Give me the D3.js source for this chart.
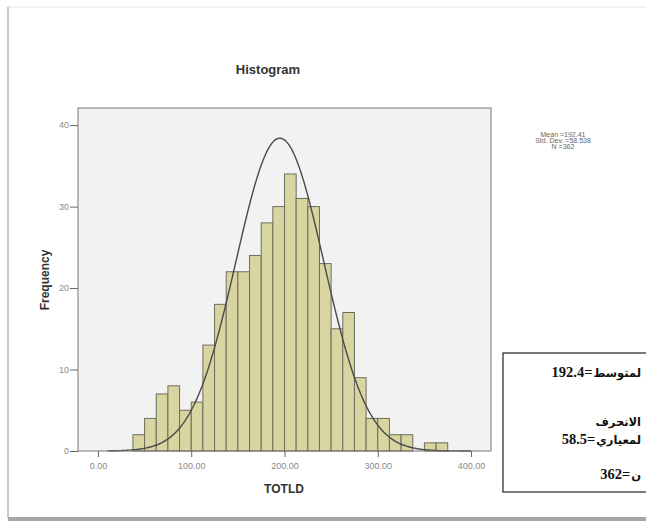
<!DOCTYPE html>
<html>
<head>
<meta charset="utf-8">
<script src="https://cdn.jsdelivr.net/npm/d3@7"></script>
<style>
	body { margin: 0; background: #fff; }
	svg { display: block; font-family: 'Liberation Sans', Arial, sans-serif; }
</style>
</head>
<body>
<svg id="chart" width="646" height="521"></svg>
<script>
// histogram bins (TOTLD), start of first bin and bin width
const binStart = 37.5;
const binWidth = 12.5;
const counts = [2, 4, 7, 8, 5, 6, 13, 18, 22, 22, 24, 28, 30, 34, 31, 30, 23, 15, 17, 9, 4, 4, 2, 2, 0, 1, 1];
const xTicks = [0, 100, 200, 300, 400];
const yTicks = [0, 10, 20, 30, 40];
const statLines = ['Mean =192.41', 'Std. Dev. =58.538', 'N =362'];
const arabicLabels = ['لمتوسط', 'الانحرف', 'لمعياري', 'ن'];
const arabicValues = ['192.4', '', '58.5', '362'];
// normal curve as it is drawn in the picture
const curveMean = 195;
const curveSd = 47;
const curveN = 362;

const svg = d3.select('#chart');

const margin = { left: 78, right: 155, top: 108, bottom: 70 };
const width = 646;
const height = 521;

// page frame
svg.append('rect').attr('x', 8).attr('y', 7).attr('width', 660).attr('height', 511)
	.attr('fill', '#fff').attr('stroke', '#e6e6e6').attr('stroke-width', 1);
svg.append('line').attr('x1', 8).attr('x2', 8).attr('y1', 7).attr('y2', 518)
	.attr('stroke', '#bdbdbd').attr('stroke-width', 1.5);
svg.append('rect').attr('x', 8).attr('y', 517).attr('width', 640).attr('height', 4).attr('fill', '#a6a6a6');

const xScale = d3.scaleLinear().domain([-21.4, 421.4]).range([margin.left, width - margin.right]);
const yScale = d3.scaleLinear().domain([0, 42.1]).range([height - margin.bottom, margin.top]);

// plot background
svg.append('rect')
	.attr('x', margin.left).attr('y', margin.top)
	.attr('width', xScale.range()[1] - margin.left)
	.attr('height', yScale(0) - margin.top)
	.attr('fill', '#f2f2f2');

// bars
const bins = counts.map((c, i) => ({ x0: binStart + i * binWidth, x1: binStart + (i + 1) * binWidth, n: c }));
svg.append('g').selectAll('rect').data(bins.filter(d => d.n > 0)).join('rect')
	.attr('x', d => xScale(d.x0))
	.attr('y', d => yScale(d.n))
	.attr('width', d => xScale(d.x1) - xScale(d.x0))
	.attr('height', d => yScale(0) - yScale(d.n))
	.attr('fill', '#d9d5a1')
	.attr('stroke', '#6e6d5e')
	.attr('stroke-width', 1);

// normal curve
const pdf = x => curveN * binWidth * Math.exp(-0.5 * ((x - curveMean) / curveSd) ** 2) / (curveSd * Math.sqrt(2 * Math.PI));
const curvePts = d3.range(10, 401, 2).map(x => ({ x: x, y: pdf(x) }));
svg.append('path').datum(curvePts)
	.attr('fill', 'none').attr('stroke', '#4a4a4a').attr('stroke-width', 1.4)
	.attr('d', d3.line().x(d => xScale(d.x)).y(d => yScale(d.y)).curve(d3.curveBasis));

// plot frame
svg.append('rect')
	.attr('x', margin.left).attr('y', margin.top)
	.attr('width', xScale.range()[1] - margin.left)
	.attr('height', yScale(0) - margin.top)
	.attr('fill', 'none').attr('stroke', '#777').attr('stroke-width', 1);

// axes
const xAxis = d3.axisBottom(xScale).tickValues(xTicks).tickFormat(d3.format('.2f')).tickSize(6).tickSizeOuter(0);
const gx = svg.append('g').attr('transform', `translate(0,${yScale(0)})`).call(xAxis);
gx.select('.domain').remove();
gx.selectAll('line').attr('stroke', '#666');
gx.selectAll('text').attr('fill', '#8a8a8a').attr('font-size', 9).attr('dy', '1.05em');

const yAxis = d3.axisLeft(yScale).tickValues(yTicks).tickSize(8).tickSizeOuter(0);
const gy = svg.append('g').attr('transform', `translate(${margin.left},0)`).call(yAxis);
gy.select('.domain').remove();
gy.selectAll('line').attr('stroke', '#666');
gy.selectAll('text').attr('fill', '#8a8a8a').attr('font-size', 9).attr('x', -9);

// titles
svg.append('text').attr('x', 268).attr('y', 74).attr('text-anchor', 'middle')
	.attr('font-size', 13).attr('font-weight', 'bold').attr('fill', '#333').text('Histogram');
svg.append('text').attr('x', 284).attr('y', 493).attr('text-anchor', 'middle')
	.attr('font-size', 12).attr('font-weight', 'bold').attr('fill', '#333').text('TOTLD');
svg.append('text').attr('transform', 'translate(49,280) rotate(-90)').attr('text-anchor', 'middle')
	.attr('font-size', 12).attr('font-weight', 'bold').attr('fill', '#333').text('Frequency');

// SPSS stats
svg.append('g').selectAll('text').data(statLines).join('text')
	.attr('x', 563).attr('y', (d, i) => 136.5 + i * 6.2)
	.attr('text-anchor', 'middle').attr('font-size', 7).attr('fill', '#666')
	.text(d => d);

// arabic box
svg.append('rect').attr('x', 503).attr('y', 353).attr('width', 160).attr('height', 139)
	.attr('fill', '#fff').attr('stroke', '#222').attr('stroke-width', 1.2);
const arabicY = [377, 426, 444, 479];
const boxRight = 641;
arabicLabels.forEach((lab, i) => {
	const t = svg.append('text').attr('x', boxRight).attr('y', arabicY[i])
		.attr('text-anchor', 'end')
		.attr('font-family', "'DejaVu Sans', sans-serif")
		.attr('font-size', 11.5).attr('font-weight', 'bold').attr('fill', '#111')
		.text(lab);
	if (arabicValues[i]) {
		const w = t.node().getComputedTextLength();
		svg.append('text').attr('x', boxRight - w - 1).attr('y', arabicY[i])
			.attr('text-anchor', 'end')
			.attr('font-family', "'Liberation Serif', 'Times New Roman', serif")
			.attr('font-size', 14.5).attr('font-weight', 'bold').attr('fill', '#111')
			.text(arabicValues[i] + '=');
	}
});
</script>
</body>
</html>
